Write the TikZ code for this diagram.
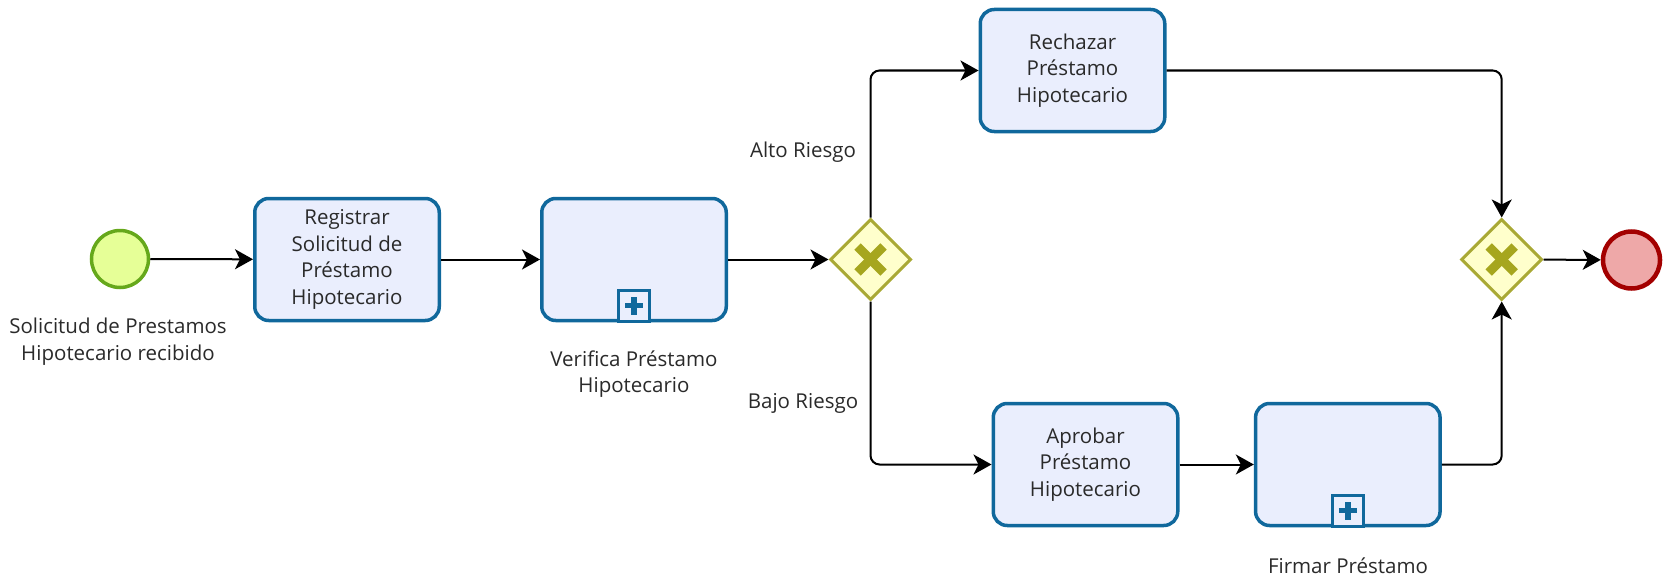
\documentclass[tikz,border=0pt]{standalone}
\usepackage{fontspec}
\setmainfont{Open Sans}
\usetikzlibrary{shapes.geometric,arrows.meta}
\definecolor{taskfill}{HTML}{EAEEFD}
\definecolor{taskdraw}{HTML}{10689C}
\definecolor{gwfill}{HTML}{FFFFCC}
\definecolor{gwdraw}{HTML}{A9A935}
\definecolor{gwx}{HTML}{A6A61E}
\definecolor{startfill}{HTML}{E6FF97}
\definecolor{startdraw}{HTML}{66A81B}
\definecolor{endfill}{HTML}{EEA8A8}
\definecolor{enddraw}{HTML}{A30000}
\definecolor{txt}{HTML}{2A2A2A}
\newcommand{\bpmnfont}{\fontsize{20.5}{26.7}\selectfont}
\begin{document}
\begin{tikzpicture}[x=1pt,y=-1pt,
  bpmntask/.style={draw=taskdraw, fill=taskfill, line width=3.5pt, rounded corners=14pt,
    minimum width=184.5pt, minimum height=122pt, align=center, inner sep=0pt, font=\bpmnfont, text=txt},
  gwnode/.style={diamond, aspect=1, draw=gwdraw, fill=gwfill, line width=3pt,
    minimum width=81pt, minimum height=81pt, inner sep=0pt},
  gwcross/.style={draw=gwx, line width=9pt},
  marker/.style={draw=taskdraw, fill=taskfill, line width=3pt, minimum width=31.5pt, minimum height=31pt,
    inner sep=0pt, anchor=south},
  plus/.style={draw=taskdraw, line width=5.5pt},
  lbl/.style={font=\bpmnfont, text=txt, align=center, inner sep=0pt},
  flow/.style={draw=black, line width=2pt, rounded corners=9pt,
    -{Stealth[length=18pt,width=20pt,inset=5pt]}},
  startev/.style={circle, draw=startdraw, fill=startfill, line width=3.5pt, minimum size=57pt, inner sep=0pt},
  endev/.style={circle, draw=enddraw, fill=endfill, line width=4.5pt, minimum size=57pt, inner sep=0pt}
]
\useasboundingbox (0,0) rectangle (1675,578);

% events
\node[startev] (st) at (120,259) {};
\node[lbl] (stl) at (118,342) {Solicitud de Prestamos\\Hipotecario recibido};
\node[endev] (en) at (1631.5,260) {};

% tasks
\node[bpmntask] (t1) at (347,259.5) {Registrar\\Solicitud de\\Préstamo\\Hipotecario};
\node[bpmntask] (s1) at (634,259.5) {};
\node[marker] (m1) at ([yshift=-0.25pt]s1.south) {};
\draw[plus] ([xshift=-9pt]m1.center) -- ([xshift=9pt]m1.center);
\draw[plus] ([yshift=-9pt]m1.center) -- ([yshift=9pt]m1.center);
\node[lbl] (s1l) at (634,374) {Verifica Préstamo\\Hipotecario};

\node[bpmntask] (rech) at (1072.5,70.5) {Rechazar\\Préstamo\\Hipotecario};
\node[bpmntask] (apr) at (1085.5,464.5) {Aprobar\\Préstamo\\Hipotecario};
\node[bpmntask] (fir) at (1347.8,464.5) {};
\node[marker] (m2) at ([yshift=-0.25pt]fir.south) {};
\draw[plus] ([xshift=-9pt]m2.center) -- ([xshift=9pt]m2.center);
\draw[plus] ([yshift=-9pt]m2.center) -- ([yshift=9pt]m2.center);
\node[lbl] (firl) at (1348,566) {Firmar Préstamo};

% gateways
\node[gwnode] (g1) at (870.5,259.5) {};
\draw[gwcross] ([shift={(-13,-13)}]g1.center) -- ([shift={(13,13)}]g1.center);
\draw[gwcross] ([shift={(-13,13)}]g1.center) -- ([shift={(13,-13)}]g1.center);
\node[gwnode] (g2) at (1501.7,259.5) {};
\draw[gwcross] ([shift={(-13,-13)}]g2.center) -- ([shift={(13,13)}]g2.center);
\draw[gwcross] ([shift={(-13,13)}]g2.center) -- ([shift={(13,-13)}]g2.center);

% branch labels
\node[lbl] (alto) at (803,152) {Alto Riesgo};
\node[lbl] (bajo) at (803,403) {Bajo Riesgo};

% flows
\draw[flow] (st) -- (t1);
\draw[flow] (t1) -- (s1);
\draw[flow] (s1) -- (g1);
\draw[flow] (g1.north) |- (rech.west);
\draw[flow] (g1.south) |- (apr.west);
\draw[flow] (apr) -- (fir);
\draw[flow] (rech.east) -| (g2.north);
\draw[flow] (fir.east) -| (g2.south);
\draw[flow] (g2) -- (en);
\end{tikzpicture}
\end{document}
